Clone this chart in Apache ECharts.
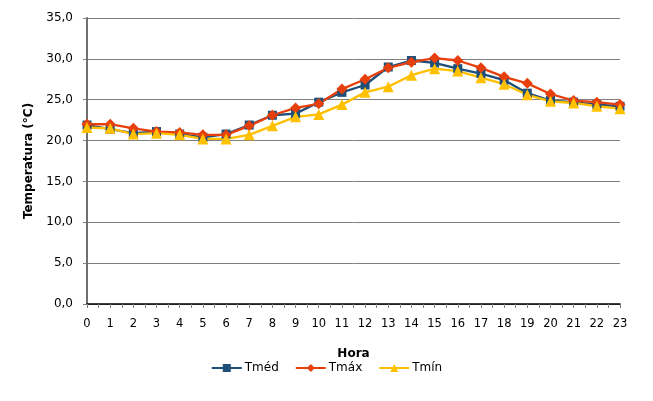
<!DOCTYPE html>
<html>
<head>
<meta charset="utf-8">
<script src="https://cdn.jsdelivr.net/npm/echarts@6/dist/echarts.min.js"></script>
<style>
  html, body { margin: 0; padding: 0; background: #fff; }
  #chart { width: 653px; height: 401px; }
</style>
</head>
<body>
<div id="chart"></div>
<script>
// horas do dia e temperaturas
const hours = [0, 1, 2, 3, 4, 5, 6, 7, 8, 9, 10, 11, 12, 13, 14, 15, 16, 17, 18, 19, 20, 21, 22, 23];
const tmed = [21.9, 21.4, 20.9, 21.1, 20.8, 20.4, 20.8, 21.9, 23.1, 23.3, 24.7, 25.9, 26.8, 29.0, 29.8, 29.5, 28.8, 28.2, 27.4, 25.8, 24.9, 24.7, 24.4, 24.2];
const tmax = [22.0, 22.0, 21.5, 21.1, 21.0, 20.7, 20.7, 21.8, 23.1, 24.0, 24.5, 26.3, 27.5, 28.9, 29.6, 30.1, 29.8, 28.9, 27.8, 27.0, 25.7, 24.9, 24.7, 24.4];
const tmin = [21.6, 21.5, 20.8, 20.9, 20.7, 20.2, 20.2, 20.7, 21.8, 22.9, 23.2, 24.4, 25.9, 26.6, 28.0, 28.8, 28.5, 27.7, 26.9, 25.6, 24.8, 24.6, 24.2, 23.9];

const font = 'DejaVu Sans';
const pairs = vals => hours.map((h, i) => [h, vals[i]]);

const chart = echarts.init(document.getElementById('chart'));

const option = {
  animation: false,
  textStyle: { fontFamily: font },
  grid: { left: 87, right: 33, top: 18, bottom: 97 },
  legend: {
    bottom: 22,
    left: 'center',
    itemGap: 16,
    itemWidth: 30,
    itemHeight: 10,
    textStyle: { fontFamily: font, fontSize: 12, color: '#000', padding: [0, 0, 0, -2] },
    data: ['Tméd', 'Tmáx', 'Tmín']
  },
  xAxis: [
    {
      type: 'value',
      min: 0,
      max: 23,
      interval: 1,
      name: 'Hora',
      nameLocation: 'middle',
      nameGap: 44,
      nameTextStyle: { fontFamily: font, fontSize: 12, fontWeight: 'bold', color: '#000' },
      axisLine: { lineStyle: { color: '#808080', width: 1 } },
      axisTick: { show: true, length: 4, lineStyle: { color: '#808080' } },
      minorTick: { show: true, splitNumber: 2, length: 4, lineStyle: { color: '#808080' } },
      axisLabel: { fontFamily: font, fontSize: 11.5, color: '#000', margin: 14 },
      splitLine: { show: false }
    },
    {
      // borda superior da área do gráfico
      type: 'value',
      position: 'top',
      min: 0,
      max: 23,
      axisLine: { show: true, lineStyle: { color: '#000', width: 1.5 } },
      axisTick: { show: false },
      axisLabel: { show: false },
      splitLine: { show: false }
    }
  ],
  yAxis: [
    {
      type: 'value',
      min: 0,
      max: 35,
      interval: 5,
      name: 'Temperatura (°C)',
      nameLocation: 'middle',
      nameGap: 52,
      nameTextStyle: { fontFamily: font, fontSize: 12, fontWeight: 'bold', color: '#000' },
      axisLine: { show: true, lineStyle: { color: '#000', width: 1.5 } },
      axisTick: { show: true, length: 4, lineStyle: { color: '#808080' } },
      axisLabel: {
        fontFamily: font,
        fontSize: 12,
        color: '#000',
        margin: 14,
        formatter: v => v.toFixed(1).replace('.', ',')
      },
      splitLine: { show: true, lineStyle: { color: '#808080', width: 1 } }
    },
    {
      // borda direita da área do gráfico
      type: 'value',
      position: 'right',
      min: 0,
      max: 35,
      axisLine: { show: true, lineStyle: { color: '#808080', width: 1.5 } },
      axisTick: { show: false },
      axisLabel: { show: false },
      splitLine: { show: false }
    }
  ],
  series: [
    {
      name: 'Tméd',
      type: 'line',
      data: pairs(tmed),
      symbol: 'rect',
      symbolSize: 9,
      color: '#1F4E79',
      lineStyle: { width: 2.3, color: '#1F4E79' },
      itemStyle: { color: '#1F4E79' }
    },
    {
      name: 'Tmáx',
      type: 'line',
      data: pairs(tmax),
      symbol: 'diamond',
      symbolSize: 11,
      color: '#E8400C',
      lineStyle: { width: 2.3, color: '#E8400C' },
      itemStyle: { color: '#E8400C' }
    },
    {
      name: 'Tmín',
      type: 'line',
      data: pairs(tmin),
      symbol: 'triangle',
      symbolSize: 11,
      color: '#FFC000',
      lineStyle: { width: 2.3, color: '#FFC000' },
      itemStyle: { color: '#FFC000' }
    }
  ]
};

chart.setOption(option);
</script>
</body>
</html>
